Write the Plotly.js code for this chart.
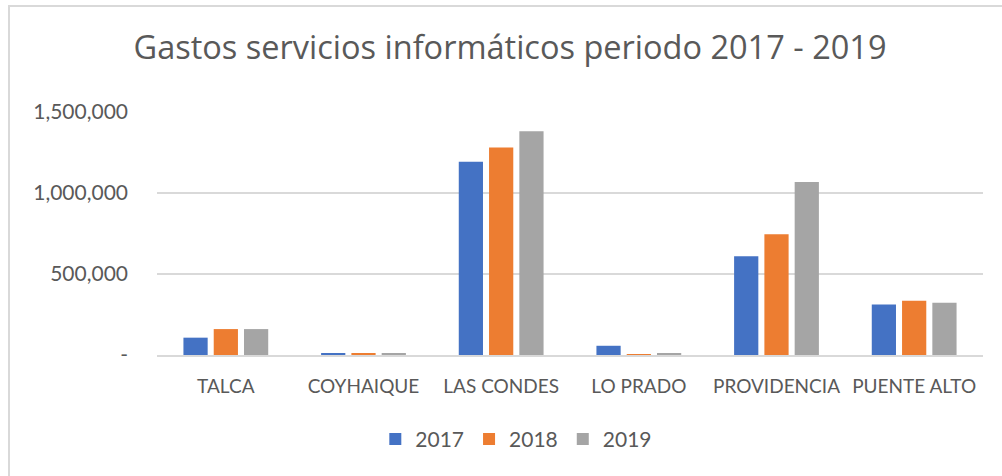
<!DOCTYPE html>
<html>
<head>
<meta charset="utf-8">
<script src="https://cdn.plot.ly/plotly-3.0.1.min.js"></script>
<style>
html,body{margin:0;padding:0;background:#fff;}
#wrap{position:relative;width:1002px;height:476px;overflow:hidden;}
#chart{position:absolute;left:0;top:0;width:1002px;height:476px;}
#frame{position:absolute;left:8px;top:5px;width:1100px;height:600px;border-left:2px solid #d9d9d9;border-top:2px solid #d9d9d9;pointer-events:none;}
</style>
</head>
<body>
<div id="wrap"><div id="chart"></div><div id="frame"></div></div>
<script>
const categories = ["TALCA", "COYHAIQUE", "LAS CONDES", "LO PRADO", "PROVIDENCIA", "PUENTE ALTO"];
const values2017 = [107000, 8000, 1193000, 57000, 610000, 311000];
const values2018 = [160000, 12000, 1281000, 3000, 745000, 335000];
const values2019 = [160000, 9000, 1381000, 10000, 1068000, 323000];
const seriesNames = ["2017", "2018", "2019"];
const yTickVals = [0, 500000, 1000000, 1500000];
const yTickText = ["-", "500,000", "1,000,000", "1,500,000"];

const colors = ["#4472C4", "#ED7D31", "#A5A5A5"];
const seriesValues = [values2017, values2018, values2019];
const font = "Lato, 'Open Sans', sans-serif";

const traces = seriesNames.map((n, i) => ({
  type: "bar",
  name: n,
  x: categories,
  y: seriesValues[i],
  marker: {color: colors[i]},
  hoverinfo: "x+y+name"
}));

const layout = {
  width: 1002, height: 476,
  margin: {l: 157, r: 19, t: 112, b: 120.5},
  paper_bgcolor: "#fff", plot_bgcolor: "#fff",
  font: {family: font, color: "#595959", size: 20},
  title: {text: "Gastos servicios informáticos periodo 2017 - 2019", font: {family: "'Open Sans', sans-serif", size: 32.5, color: "#595959"}, x: 0.509, xanchor: "center", xref: "container", y: 0.899, yanchor: "middle", yref: "container"},
  bargap: 0.34, bargroupgap: 0.2, barmode: "group",
  xaxis: {type: "category", showgrid: false, zeroline: false, showline: true, linecolor: "#d9d9d9", linewidth: 2, ticks: "", tickfont: {size: 19, family: font, color: "#595959"}, ticklabelstandoff: 13},
  yaxis: {range: [0, 1500000], tickvals: yTickVals, ticktext: yTickText, showgrid: true, gridcolor: "#d9d9d9", gridwidth: 2, zeroline: false, showline: false, ticks: "", tickfont: {size: 21, family: font, color: "#595959"}, ticklabelstandoff: 28},
  legend: {orientation: "h", x: 0.435, xanchor: "center", y: -0.347, yanchor: "middle", font: {size: 21, family: font, color: "#595959"}, itemwidth: 20, tracegroupgap: 0},
  showlegend: true
};

Plotly.newPlot("chart", traces, layout, {displayModeBar: false, responsive: false});
</script>
</body>
</html>
